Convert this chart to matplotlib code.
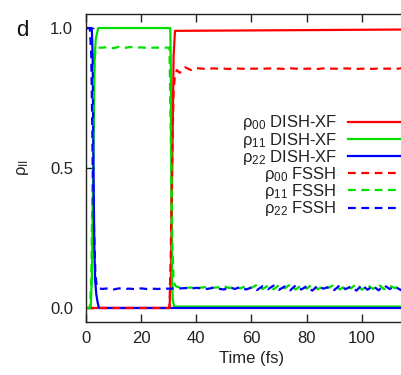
import matplotlib
matplotlib.use("Agg")
import matplotlib.pyplot as plt

plt.rcParams['font.family'] = ['Liberation Sans', 'DejaVu Sans']
plt.rcParams['mathtext.fontset'] = 'custom'
plt.rcParams['mathtext.rm'] = 'Liberation Sans'
plt.rcParams['mathtext.it'] = 'Liberation Sans:italic'
plt.rcParams['font.size'] = 12

# ---------------- data ----------------
t_d00 = [0, 30.3, 30.8, 31.3, 31.8, 32.3, 120]
rho00_dish = [0, 0, 0.1, 0.5, 0.9, 0.99, 0.995]

t_d11 = [0, 1.8, 2.2, 2.7, 3.2, 3.6, 4.5, 30.6, 30.8, 31.0, 31.2, 31.5, 32.0, 120]
rho11_dish = [0, 0, 0.1, 0.5, 0.88, 0.96, 1.0, 1.0, 0.85, 0.45, 0.12, 0.03, 0.005, 0.005]

t_d22 = [0, 2.2, 2.5, 2.8, 3.1, 3.4, 3.8, 4.3, 4.8, 120]
rho22_dish = [1.0, 1.0, 0.9, 0.5, 0.22, 0.1, 0.05, 0.02, 0.0, 0.0]

t_fssh = [0, 1.5, 2.0, 2.5, 3.0, 3.5, 4.0, 5.0,
          6, 8, 10, 12, 14, 16, 18, 20, 22, 24, 26, 28,
          30.3, 30.8, 31.3, 31.8, 32.3, 33,
          34, 36, 38, 40, 42, 44, 46, 48, 50, 52,
          54, 56, 58, 60, 62, 64, 66, 68, 70, 72,
          74, 76, 78, 80, 82, 84, 86, 88, 90, 92,
          94, 96, 98, 100, 102, 104, 106, 108, 110, 112,
          114, 116, 118, 120]

rho00_fssh = ([0] * 20 +
              [0, 0.2, 0.55, 0.78, 0.83, 0.85] +
              [0.840, 0.860, 0.850, 0.857] +
              [0.855, 0.854, 0.856, 0.855, 0.855, 0.854, 0.856, 0.855, 0.854, 0.855] * 4)

rho11_fssh = ([0, 0, 0.1, 0.5, 0.85, 0.92, 0.93, 0.93,
               0.930, 0.932, 0.928, 0.933, 0.929, 0.932, 0.930, 0.931, 0.929, 0.930, 0.930, 0.930] +
              [0.93, 0.6, 0.25, 0.1, 0.08, 0.076] +
              [0.074, 0.072, 0.073, 0.071, 0.073, 0.075, 0.072, 0.074, 0.078, 0.071,
               0.076, 0.070, 0.079, 0.072, 0.083, 0.068, 0.080, 0.067, 0.082, 0.070,
               0.084, 0.066, 0.081, 0.069, 0.085, 0.067, 0.078, 0.072, 0.084, 0.066,
               0.080, 0.070, 0.086, 0.065, 0.082, 0.068, 0.084, 0.067, 0.079, 0.071,
               0.083, 0.066, 0.080, 0.070])

rho22_fssh = ([1.0, 1.0, 0.9, 0.55, 0.28, 0.12, 0.075, 0.07,
               0.068, 0.070, 0.066, 0.070, 0.068, 0.069, 0.067, 0.070, 0.068, 0.069, 0.068, 0.069] +
              [0.069, 0.068, 0.070, 0.070, 0.071, 0.070] +
              [0.070, 0.071, 0.069, 0.072, 0.070, 0.068, 0.072, 0.069, 0.066, 0.074,
               0.068, 0.075, 0.066, 0.073, 0.064, 0.078, 0.067, 0.080, 0.065, 0.077,
               0.063, 0.081, 0.066, 0.078, 0.062, 0.080, 0.069, 0.075, 0.064, 0.082,
               0.067, 0.077, 0.062, 0.083, 0.065, 0.079, 0.063, 0.081, 0.068, 0.076,
               0.064, 0.082, 0.067, 0.077])

labels = ['ρ$_\\mathregular{00}$ DISH-XF', 'ρ$_\\mathregular{11}$ DISH-XF', 'ρ$_\\mathregular{22}$ DISH-XF',
          'ρ$_\\mathregular{00}$ FSSH', 'ρ$_\\mathregular{11}$ FSSH', 'ρ$_\\mathregular{22}$ FSSH']
xticks = [0, 20, 40, 60, 80, 100]
yticks = [0.0, 0.5, 1.0]

RED, GREEN, BLUE = '#ff0000', '#00e000', '#0000ff'

# ---------------- figure ----------------
W, H = 402, 375
fig = plt.figure(figsize=(W / 100, H / 100), dpi=100)
x0, ppu = 85.75, 2.7625
ax = fig.add_axes([x0 / W, 1 - 321.7 / H, 120 * ppu / W, (321.7 - 13.5) / H])

lw = 1.6
dash = (0, (3.5, 2.5))
ax.plot(t_d00, rho00_dish, color=RED, lw=lw, label=labels[0])
ax.plot(t_d11, rho11_dish, color=GREEN, lw=lw, label=labels[1])
ax.plot(t_d22, rho22_dish, color=BLUE, lw=lw, label=labels[2])
ax.plot(t_fssh, rho00_fssh, color=RED, lw=lw, ls=dash, label=labels[3])
ax.plot(t_fssh, rho11_fssh, color=GREEN, lw=lw, ls=dash, label=labels[4])
ax.plot(t_fssh, rho22_fssh, color=BLUE, lw=lw, ls=dash, label=labels[5])

ax.set_xlim(0, 120)
ax.set_ylim(-0.049, 1.052)
ax.set_xticks(xticks)
ax.set_yticks(yticks)
ax.set_yticklabels(['%.1f' % v for v in yticks])
ax.tick_params(axis='both', direction='in', length=6, width=1, color='#222222',
               labelcolor='#222222', labelsize=12)
ax.tick_params(axis='x', top=True, pad=7)
ax.tick_params(axis='y', right=True, pad=9)
for s in ax.spines.values():
    s.set_linewidth(1.0)
    s.set_color('#222222')

ax.set_xlabel('Time (fs)', fontsize=12, color='#222222', labelpad=3)
ax.set_ylabel('ρ$_\\mathregular{II}$', fontsize=12, color='#222222', labelpad=14)

fig.text(16 / W, 1 - 30 / H, 'd', fontsize=16, color='#111111', va='center', ha='left')

handles, labs = ax.get_legend_handles_labels()
fs_px = 12 * 100 / 72
leg = fig.legend(handles, labs, loc='upper right',
                 bbox_to_anchor=(416 / W, 1 - 113.5 / H), frameon=False,
                 markerfirst=False, handlelength=68 / fs_px, handletextpad=11 / fs_px,
                 borderpad=0, borderaxespad=0, labelspacing=-0.11, fontsize=12)
for t in leg.get_texts():
    t.set_color('#222222')

fig.savefig('out.png', dpi=100)
